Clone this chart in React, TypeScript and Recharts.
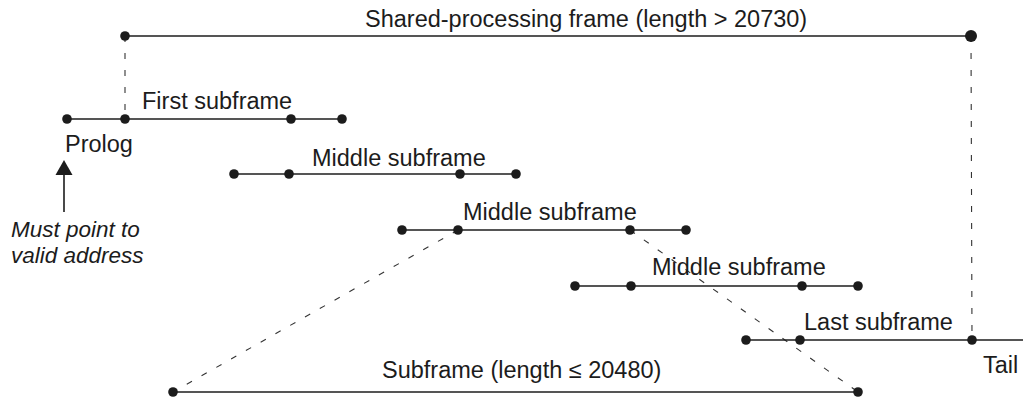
import { ScatterChart, Scatter, XAxis, YAxis, ReferenceLine } from "recharts";

const FONT = '"Liberation Sans", Arial, Helvetica, sans-serif';
const INK = "#1c1c1c";

// row levels (vertical position of each frame line)
const frameRow = 36;
const firstRow = 119;
const middleRows = [174, 230, 286];
const lastRow = 340;
const subframeRow = 392;

// dot positions along each row
const frameDots = [125];
const frameEnd = [971];
const firstDots = [67, 125, 291, 342];
const middleDots = [
  [234, 289, 460, 516],
  [402, 458, 630, 686],
  [575, 631, 802, 858],
];
const lastDots = [746, 800, 972];
const tailEnd = 1023;
const subframeDots = [173, 858];

// arrow under Prolog
const arrowX = 64;
const arrowFrom = 212;
const arrowHead = 168;

const labels = [
  { x: 365, y: 27, text: "Shared-processing frame (length > 20730)" },
  { x: 142, y: 109, text: "First subframe" },
  { x: 65, y: 152, text: "Prolog" },
  { x: 312, y: 166, text: "Middle subframe" },
  { x: 463, y: 220, text: "Middle subframe" },
  { x: 652, y: 275, text: "Middle subframe" },
  { x: 804, y: 330, text: "Last subframe" },
  { x: 983, y: 373, text: "Tail" },
  { x: 382, y: 378, text: "Subframe (length \u2264 20480)" },
];
const notes = [
  { x: 11, y: 237, text: "Must point to" },
  { x: 11, y: 263, text: "valid address" },
];

const toPoints = (xs: number[], y: number) => xs.map((x) => ({ x, y }));

const Dot = (props: any) => (
  <circle cx={props.cx} cy={props.cy} r={4.8} fill={INK} />
);
const BigDot = (props: any) => (
  <circle cx={props.cx} cy={props.cy} r={6} fill={INK} />
);
const ArrowHead = (props: any) => (
  <polygon
    points={`${props.cx},${props.cy - 8} ${props.cx - 8.5},${props.cy + 7} ${props.cx + 8.5},${props.cy + 7}`}
    fill={INK}
  />
);
const makeText = (italic: boolean, size: number) => (props: any) => (
  <text
    x={props.cx}
    y={props.cy}
    fill={INK}
    fontFamily={FONT}
    fontSize={size}
    fontStyle={italic ? "italic" : "normal"}
    textAnchor="start"
  >
    {props.payload.text}
  </text>
);

const solid = { stroke: INK, strokeWidth: 1.6 };
const dashed = { stroke: "#333", strokeWidth: 1.1, strokeDasharray: "6 11" };

export default function App() {
  return (
    <div style={{ position: "absolute", left: 0, top: 0, background: "#fff" }}>
      <ScatterChart
        width={1023}
        height={398}
        margin={{ top: 0, right: 0, bottom: 0, left: 0 }}
      >
        <XAxis type="number" dataKey="x" domain={[0, 1023]} hide />
        <YAxis type="number" dataKey="y" domain={[0, 398]} reversed hide />

        {/* dashed connectors */}
        <ReferenceLine
          segment={[
            { x: frameDots[0], y: frameRow },
            { x: firstDots[1], y: firstRow },
          ]}
          ifOverflow="visible"
          {...dashed}
        />
        <ReferenceLine
          segment={[
            { x: frameEnd[0], y: frameRow },
            { x: lastDots[2], y: lastRow },
          ]}
          ifOverflow="visible"
          {...dashed}
        />
        <ReferenceLine
          segment={[
            { x: middleDots[1][1], y: middleRows[1] },
            { x: subframeDots[0], y: subframeRow },
          ]}
          ifOverflow="visible"
          {...dashed}
        />
        <ReferenceLine
          segment={[
            { x: middleDots[1][2], y: middleRows[1] },
            { x: subframeDots[1], y: subframeRow },
          ]}
          ifOverflow="visible"
          {...dashed}
        />

        {/* tail extension and arrow shaft */}
        <ReferenceLine
          segment={[
            { x: lastDots[2], y: lastRow },
            { x: tailEnd, y: lastRow },
          ]}
          ifOverflow="visible"
          {...solid}
        />
        <ReferenceLine
          segment={[
            { x: arrowX, y: arrowFrom },
            { x: arrowX, y: arrowHead + 6 },
          ]}
          ifOverflow="visible"
          stroke={INK}
          strokeWidth={1.6}
        />

        {/* frame rows */}
        <Scatter
          data={toPoints([...frameDots, ...frameEnd], frameRow)}
          line={solid}
          shape={(p: any) => (p.payload.x === frameEnd[0] ? BigDot(p) : Dot(p))}
          isAnimationActive={false}
        />
        <Scatter
          data={toPoints(firstDots, firstRow)}
          line={solid}
          shape={Dot}
          isAnimationActive={false}
        />
        {middleDots.map((xs, i) => (
          <Scatter
            key={i}
            data={toPoints(xs, middleRows[i])}
            line={solid}
            shape={Dot}
            isAnimationActive={false}
          />
        ))}
        <Scatter
          data={toPoints(lastDots, lastRow)}
          line={solid}
          shape={Dot}
          isAnimationActive={false}
        />
        <Scatter
          data={toPoints(subframeDots, subframeRow)}
          line={solid}
          shape={Dot}
          isAnimationActive={false}
        />
        <Scatter
          data={[{ x: arrowX, y: arrowHead }]}
          shape={ArrowHead}
          isAnimationActive={false}
        />

        {/* text */}
        <Scatter data={labels} shape={makeText(false, 23.5)} isAnimationActive={false} />
        <Scatter data={notes} shape={makeText(true, 22.5)} isAnimationActive={false} />
      </ScatterChart>
    </div>
  );
}
